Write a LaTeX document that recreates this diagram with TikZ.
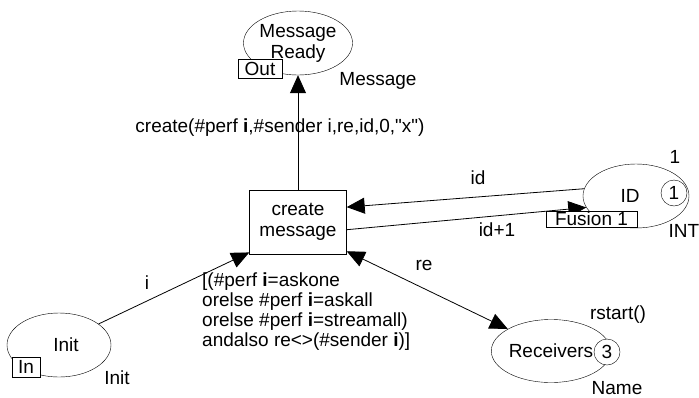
\documentclass[tikz,border=0pt]{standalone}
\usepackage{fontspec}
\setmainfont[Ligatures=TeXOff]{Liberation Sans}
\usetikzlibrary{shapes.geometric, arrows.meta}

\tikzset{
  place/.style={draw, ellipse, inner sep=0pt, align=center, minimum height=64pt},
  trans/.style={draw, rectangle, inner sep=0pt, align=center, minimum width=97pt, minimum height=64pt},
  tag/.style={draw, fill=white, inner xsep=2pt, inner ysep=1pt, minimum height=16pt},
  token/.style={draw, circle, fill=white, inner sep=0pt, minimum size=26pt},
  arc/.style={line width=0.8pt, -{Triangle[length=18pt,width=16pt]}},
  arcboth/.style={line width=0.8pt, {Triangle[length=18pt,width=16pt]}-{Triangle[length=18pt,width=16pt]}}
}

\begin{document}
\begin{tikzpicture}[x=1pt, y=-1pt, font=\fontsize{19}{21}\selectfont]
    \useasboundingbox (0,0) rectangle (699,397);

    % Stellen
    \node[place, minimum width=96pt] (ready) at (298,43) {Message\\Ready};
    \node[tag, minimum width=44pt, minimum height=19pt] (out) at (260,68.5) {Out};
    \node (readytype) at (378,81) {Message};

    \node[place, minimum width=106pt] (id) at (636,196) {ID\hspace{12pt}};
    \node[token] (idtok) at (674,193) {1};
    \node (idinit) at (675,157) {1};
    \node (idtype) at (684,231) {INT};

    \node[place, minimum width=104pt] (init) at (59,345) {\hspace{14pt}Init};
    \node[tag, minimum width=28pt, minimum height=20pt] (in) at (26,367) {In};
    \node (inittype) at (117,378) {Init};

    \node[place, minimum width=94pt, minimum height=63pt] (rec) at (551,351) {Receivers};
    \node[token] (rectok) at (607,352) {3};
    \node (recinit) at (618,315) {rstart()};
    \node (rectype) at (617,388) {Name};

    % Transition
    \node[trans] (create) at (298,222) {create\\message};

    % Kanten
    \draw[arc] (create) -- (ready);
    \draw[arc] (id.172) -- (create.17);
    \draw[arc] (create.-9) -- (id.193);
    \draw[arc] (init.28) -- (create.212);
    \draw[arcboth] (create.-31) -- (rec.153);

    \node (createexp) at (280,128) {create(\#perf \textbf{i},\#sender i,re,id,0,"x")};
    \node (idexp) at (478,178) {id};
    \node (idincexp) at (497,230) {id+1};
    \node (iexp) at (147,283) {i};
    \node (reexp) at (424,265) {re};
    \node[anchor=north west, inner sep=0pt, align=left, font=\fontsize{19}{20}\selectfont] (guard) at (202,273)
      {[(\#perf \textbf{i}=askone\\orelse \#perf \textbf{i}=askall\\orelse \#perf \textbf{i}=streamall)\\andalso re<>(\#sender \textbf{i})]};

    \node[tag, minimum width=91pt] (fusion) at (591.5,219) {Fusion 1};
\end{tikzpicture}
\end{document}
